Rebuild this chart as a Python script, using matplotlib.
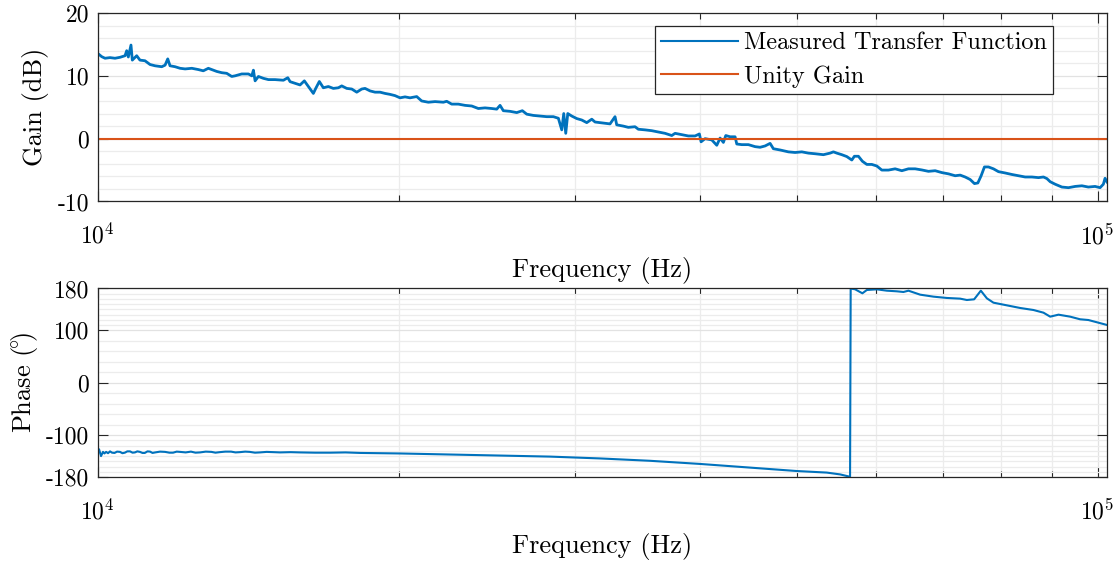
import matplotlib
matplotlib.use("Agg")
import matplotlib.pyplot as plt
from matplotlib.ticker import FixedLocator, FixedFormatter, NullFormatter

# Measured open-loop transfer function (magnitude)
freq_gain = [
    10000, 10018, 10097, 10174, 10292, 10411, 10532, 10654, 10695, 10735, 10801,
    10834, 10944, 11027, 11155, 11286, 11416, 11593, 11683, 11755, 11817, 11955,
    12094, 12235, 12425, 12612, 12758, 12907, 13008, 13159, 13311, 13465, 13621,
    13725, 13939, 14154, 14265, 14318, 14374, 14484, 14652, 14822,
    15050, 15342, 15498, 15580, 15761, 15941, 16100, 16249, 16437, 16528, 16665,
    16820, 17015, 17212, 17412, 17547, 17750, 17956, 18164, 18374, 18515, 18730,
    18946, 19165, 19387, 19611, 19838, 20068, 20300, 20535, 20853, 21094, 21420,
    21752, 22173,
    22344, 22603, 22951, 23308, 23670, 24033, 24406, 24786, 25073, 25265, 25457,
    25853, 26255, 26595, 26866, 27278, 27702, 28133, 28564, 28895, 29121, 29256,
    29391, 29527, 29800, 30145, 30494, 30847, 31205, 31442, 31805, 32174,
    32546, 32922, 33051, 33557, 33946, 34474, 34737, 35277, 35826, 36375, 36941,
    37516, 37802, 38390, 38978, 39585, 39980, 40136, 40508, 41138, 41614, 41931,
    42251, 42485, 42908, 43405, 43575, 44079, 44755, 45451, 45977, 46509, 47048,
    47406, 48144,
    49072, 49836, 50611, 51387, 52185, 53193, 54021, 54433, 54860, 55495, 56138,
    56788, 57129, 57658, 58192, 58785, 59466, 60154, 60851, 61784, 62746, 63722,
    64698, 65705, 66727, 67748, 68803, 69873, 70944,
    72044, 72878, 73722, 74576, 75318, 75909, 76488, 77071, 77784, 78685, 79596,
    80834, 82092, 83350, 84647, 85964, 87282, 88292, 88986, 89664, 90703, 92113,
    93523, 94978, 96454, 97904, 99426, 100580, 101340, 101740, 102210,
]
gain_db = [
    13.3, 13.5, 13.05, 12.8, 12.9, 12.8, 12.95, 13.2, 14.0, 13.0, 14.9,
    12.5, 13.2, 12.5, 12.4, 11.8, 11.6, 11.45, 11.7, 12.7, 11.6, 11.45,
    11.2, 11.1, 11.2, 11.0, 10.8, 11.2, 11.0, 10.7, 10.5, 10.4, 9.9,
    10.0, 10.3, 10.3, 10.0, 10.9, 9.2, 9.9, 9.6, 9.4,
    9.4, 9.3, 9.7, 9.07, 8.8, 8.55, 9.2, 8.3, 7.2, 8.0, 9.1,
    8.1, 8.3, 8.0, 8.1, 8.4, 8.0, 7.9, 7.4, 7.9, 8.0, 7.6,
    7.4, 7.4, 7.2, 7.05, 6.85, 6.5, 6.65, 6.5, 6.7, 6.0, 5.8,
    5.9, 5.8,
    5.95, 5.5, 5.5, 5.3, 5.2, 4.8, 4.9, 4.8, 4.7, 5.3, 4.45,
    4.35, 4.15, 4.45, 3.9, 3.7, 3.6, 3.5, 3.5, 3.25, 1.4, 4.0,
    0.85, 4.0, 3.6, 3.2, 2.97, 2.55, 3.1, 2.65, 2.55, 2.45,
    2.35, 3.5, 2.2, 2.0, 1.8, 1.9, 1.5, 1.4, 1.27, 1.07, 0.85,
    0.5, 0.85, 0.64, 0.43, 0.43, 0.75, -0.5, 0.0, -0.2, -1.05, 0.1,
    -0.6, 0.5, 0.3, 0.3, -0.85, -0.95, -0.95, -1.27, -1.37, -1.16, -0.75,
    -1.6, -1.8,
    -2.1, -2.2, -2.1, -2.3, -2.4, -2.55, -2.3, -2.1, -2.3, -2.55, -2.85,
    -3.4, -2.8, -2.8, -3.6, -4.1, -4.1, -4.35, -5.0, -5.0, -4.8, -5.1,
    -4.8, -4.8, -4.98, -5.2, -5.1, -5.4, -5.6,
    -5.9, -5.8, -6.1, -6.5, -7.15, -7.05, -5.9, -4.5, -4.5, -4.8, -5.25,
    -5.46, -5.7, -5.9, -6.1, -6.1, -6.2, -6.1, -6.35, -6.85, -7.25, -7.7,
    -7.8, -7.6, -7.5, -7.7, -7.6, -7.8, -7.25, -6.3, -6.9,
]

# Measured transfer function (phase, wrapped to +/-180 deg)
freq_phase = [
    10000, 10035, 10081, 10127, 10160, 10200, 10245, 10292, 10340, 10400, 10460,
    10532, 10590, 10650, 10710, 10777, 10840, 10900, 10960, 11027, 11090, 11150,
    11220, 11286, 11350, 11420, 11550, 11683, 11800, 11900, 12000, 12094, 12250,
    12400, 12530, 12661, 12830, 13000, 13120, 13251, 13420, 13600, 13740, 13878,
    14050, 14200, 14370, 14536, 14760, 15000, 15222, 15600, 15941, 16500, 17100,
    17700, 18314, 20068, 22513,
    25263, 28343, 31805, 35685, 40040, 44925, 50000, 53600, 55280, 56560,
    56640, 57213, 58190, 58785, 60154, 61560, 62990, 63957, 64698, 66466, 68535,
    70680, 72878, 74010, 75262, 76435, 77500, 78685, 80521, 83658, 86281, 88292,
    89664, 91398, 93886, 96051, 97904, 102210,
]
phase_deg = [
    -134, -127, -140, -132, -135, -132, -134.5, -131, -133.5, -134, -131.5,
    -132, -134.5, -133.5, -131, -131, -133.5, -133, -131, -132, -134, -134,
    -131, -131.5, -134, -133, -131.5, -132, -133.5, -133.5, -131.5, -132, -133,
    -131.5, -133.5, -133, -131.5, -132, -133.5, -132.5, -131.5, -131.5, -133, -132.5,
    -131.5, -132, -133.5, -133, -132, -132.5, -133, -132.5, -133, -133.5, -133.5,
    -133, -134, -135, -137,
    -139, -141, -144.5, -149, -155, -162, -168.5, -171.5, -175, -179.5,
    179.8, 178.5, 170.8, 177.1, 178.4, 175.8, 174.6, 173.3, 175.8, 168.2, 164.4,
    161.9, 160.6, 158.0, 159.3, 175.8, 161.2, 152.9, 149.1, 142.8, 138.9, 133.8,
    126.2, 130.0, 126.2, 121.2, 119.8, 110.3,
]

unity_freq = [10000, 102210]
unity_gain = [0, 0]

freq_limits = (10000, 102210)
decade_ticks = [1e4, 1e5]
decade_labels = [r"$10^4$", r"$10^5$"]
minor_freqs = [2e4, 3e4, 4e4, 5e4, 6e4, 7e4, 8e4, 9e4]

gain_ticks = [-10, 0, 10, 20]
gain_minor = [-8, -6, -4, -2, 2, 4, 6, 8, 12, 14, 16, 18]
phase_ticks = [-180, -100, 0, 100, 180]
phase_minor = [-170, -160, -150, -140, -130, -120, -110, -80, -60, -40, -20,
               20, 40, 60, 80, 110, 120, 130, 140, 150, 160, 170]

BLUE = "#0072BD"
ORANGE = "#D95319"
AXC = "#262626"

plt.rcParams["font.family"] = "cmr10"
plt.rcParams["mathtext.fontset"] = "cm"
plt.rcParams["axes.unicode_minus"] = False
plt.rcParams["axes.formatter.use_mathtext"] = True

fig = plt.figure(figsize=(11.17, 5.63), dpi=100)
ax1 = fig.add_axes([0.0873, 0.6421, 0.9038, 0.3348])
ax2 = fig.add_axes([0.0873, 0.1527, 0.9038, 0.3349])


def style_axes(ax, yticks, yminor, ylim):
    ax.set_xscale("log")
    ax.set_xlim(*freq_limits)
    ax.set_ylim(*ylim)
    ax.xaxis.set_major_locator(FixedLocator(decade_ticks))
    ax.xaxis.set_major_formatter(FixedFormatter(decade_labels))
    ax.xaxis.set_minor_locator(FixedLocator(minor_freqs))
    ax.xaxis.set_minor_formatter(NullFormatter())
    ax.yaxis.set_major_locator(FixedLocator(yticks))
    ax.yaxis.set_major_formatter(FixedFormatter([str(t) for t in yticks]))
    ax.yaxis.set_minor_locator(FixedLocator(yminor))
    ax.set_axisbelow(True)
    ax.grid(which="major", color="#e2e2e2", lw=0.9)
    ax.grid(which="minor", color="#ececec", lw=0.9)
    ax.tick_params(which="both", direction="in", top=True, right=True,
                   colors=AXC, labelcolor="black", labelsize=17)
    ax.tick_params(which="major", length=7, width=0.8)
    ax.tick_params(axis="x", which="minor", length=4, width=0.8)
    ax.tick_params(axis="y", which="minor", length=0)
    ax.tick_params(axis="x", which="major", pad=16)
    ax.tick_params(axis="y", which="major", pad=6)
    for sp in ax.spines.values():
        sp.set_color(AXC)
        sp.set_linewidth(0.9)
    ax.set_xlabel("Frequency (Hz)", fontsize=19, labelpad=6)


style_axes(ax1, gain_ticks, gain_minor, (-10, 20))
ax1.plot(freq_gain, gain_db, color=BLUE, lw=2.0, label="Measured Transfer Function")
ax1.plot(unity_freq, unity_gain, color=ORANGE, lw=1.5, label="Unity Gain")
ax1.set_ylabel("Gain (dB)", fontsize=19, labelpad=6)
leg = ax1.legend(loc="upper right", bbox_to_anchor=(0.9465, 0.931), fontsize=17.5,
                 frameon=True, fancybox=False, edgecolor=AXC, framealpha=1,
                 handlelength=3.15, handletextpad=0.25, borderaxespad=0,
                 labelspacing=0.45, borderpad=0.25)
leg.get_frame().set_linewidth(0.9)
for line in leg.get_lines():
    line.set_linewidth(1.5)

style_axes(ax2, phase_ticks, phase_minor, (-180, 180))
ax2.plot(freq_phase, phase_deg, color=BLUE, lw=1.5)
ax2.set_ylabel(r"Phase $(\!^{\circ}\!)$", fontsize=19, labelpad=4)

fig.savefig("out.png", dpi=100)
